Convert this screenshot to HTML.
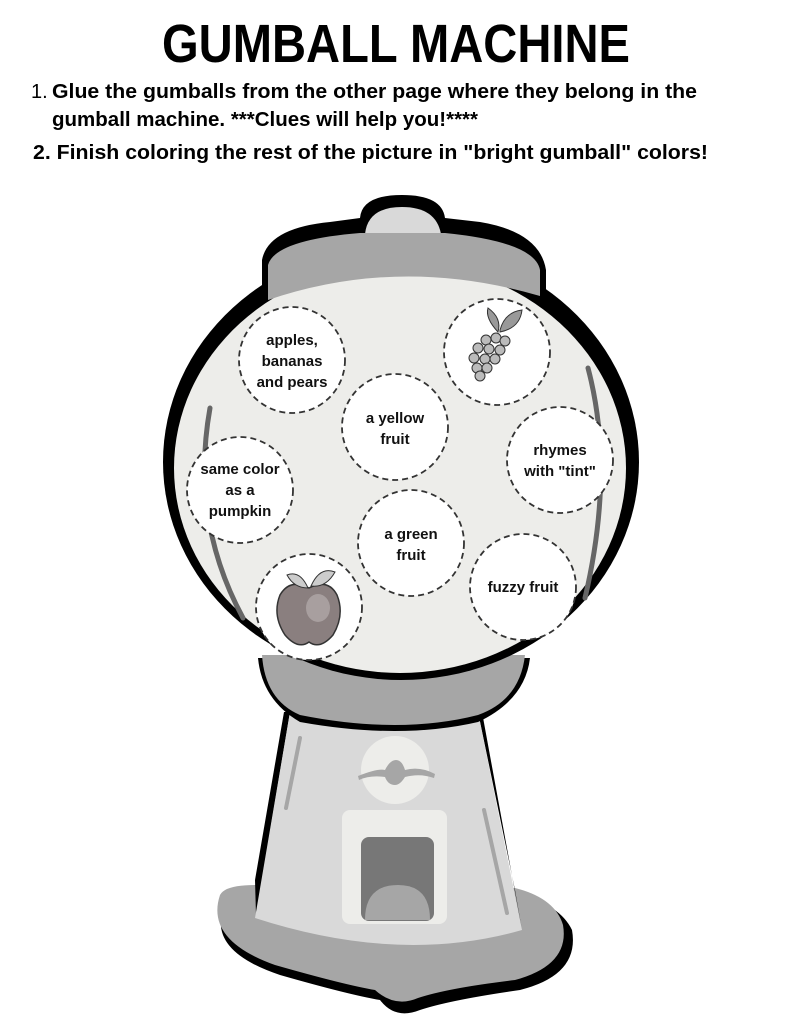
<!DOCTYPE html>
<html><head><style>
body{margin:0;background:#fff;width:791px;height:1023px;overflow:hidden;font-family:"Liberation Sans",sans-serif;}
</style></head><body>
<svg width="791" height="1023" viewBox="0 0 791 1023" xmlns="http://www.w3.org/2000/svg" font-family="Liberation Sans, sans-serif">
<text x="396" y="62" text-anchor="middle" font-size="54" font-weight="bold" textLength="468" lengthAdjust="spacingAndGlyphs" fill="#000">GUMBALL MACHINE</text>
<text x="31" y="98" font-size="20" fill="#000">1.</text>
<text x="52" y="98" font-size="20" font-weight="bold" fill="#000" textLength="645" lengthAdjust="spacingAndGlyphs">Glue the gumballs from the other page where they belong in the</text>
<text x="52" y="126" font-size="20" font-weight="bold" fill="#000" textLength="426" lengthAdjust="spacingAndGlyphs">gumball machine. ***Clues will help you!****</text>
<text x="33" y="159" font-size="20" font-weight="bold" fill="#000" textLength="675" lengthAdjust="spacingAndGlyphs">2. Finish coloring the rest of the picture in "bright gumball" colors!</text>

<!-- base shadow -->
<path d="M225 905 Q205 950 280 975 Q350 995 380 1000 Q395 1020 420 1010 Q450 1000 520 990 Q580 975 572 930 Q560 905 520 895 L260 895 Z" fill="#000"/>
<path d="M220 895 Q205 940 275 965 Q345 985 375 990 Q395 1008 418 998 Q448 988 515 980 Q570 965 563 925 Q555 898 515 888 L255 885 Q225 885 220 895 Z" fill="#a6a6a6"/>
<!-- body -->
<path d="M284 712 L255 880 L256 915 L290 712 Z" fill="#000"/>
<path d="M478 712 L515 890 L522 930 L482 712 Z" fill="#000"/>
<path d="M290 712 L255 918 Q400 965 522 930 L478 712 Z" fill="#d9d9d9"/>
<line x1="300" y1="738" x2="286" y2="808" stroke="#a6a6a6" stroke-width="4" stroke-linecap="round"/>
<line x1="484" y1="810" x2="507" y2="913" stroke="#a6a6a6" stroke-width="4" stroke-linecap="round"/>
<!-- neck -->
<path d="M258 658 Q262 700 300 722 Q400 740 478 722 Q525 700 530 658 Z" fill="#000"/>
<path d="M262 655 Q265 700 300 715 Q400 735 478 715 Q520 700 525 655 Z" fill="#a6a6a6"/>
<!-- globe black + lid black -->
<ellipse cx="401" cy="462" rx="238" ry="218" fill="#000"/>
<path d="M262 300 L262 260 Q268 228 330 222 L360 218 Q362 195 402 195 Q442 195 445 218 L480 222 Q540 232 546 270 L546 300 Z" fill="#000"/>
<ellipse cx="400" cy="468" rx="226" ry="205" fill="#ededea"/>
<!-- lid -->
<path d="M365 234 Q368 207 402 207 Q436 207 441 234 Z" fill="#d9d9d9"/>
<path d="M268 300 L268 265 Q275 240 360 233 L445 233 Q535 242 540 270 L540 296 Q400 255 268 300 Z" fill="#a6a6a6"/>
<!-- highlights -->
<path d="M210 408 Q190 520 243 618" fill="none" stroke="#666" stroke-width="5" stroke-linecap="round"/>
<path d="M588 368 Q615 470 585 598" fill="none" stroke="#666" stroke-width="5" stroke-linecap="round"/>
<!-- knob -->
<circle cx="395" cy="770" r="34" fill="#ededea"/>
<path d="M358 776 Q378 768 385 770 Q390 760 396 760 Q402 760 405 770 Q420 766 435 774 L434 778 Q420 773 405 777 Q400 785 395 785 Q388 785 385 777 Q370 775 359 780 Z" fill="#a6a6a6"/>
<!-- door -->
<rect x="342" y="810" width="105" height="114" rx="8" fill="#ededea"/>
<rect x="361" y="837" width="73" height="84" rx="8" fill="#777"/>
<path d="M365 920 Q365 885 398 885 Q430 885 430 920 Z" fill="#a6a6a6"/>
<!-- circles -->
<g fill="#fff" stroke="#333" stroke-width="1.8" stroke-dasharray="6 4">
<circle cx="292" cy="360" r="53"/>
<circle cx="497" cy="352" r="53"/>
<circle cx="395" cy="427" r="53"/>
<circle cx="560" cy="460" r="53"/>
<circle cx="240" cy="490" r="53"/>
<circle cx="411" cy="543" r="53"/>
<circle cx="523" cy="587" r="53"/>
<circle cx="309" cy="607" r="53"/>
</g>
<g font-size="15" font-weight="bold" text-anchor="middle" fill="#111">
<text x="292" y="345">apples,</text><text x="292" y="366">bananas</text><text x="292" y="387">and pears</text>
<text x="395" y="423">a yellow</text><text x="395" y="444">fruit</text>
<text x="560" y="455">rhymes</text><text x="560" y="476">with "tint"</text>
<text x="240" y="474">same color</text><text x="240" y="495">as a</text><text x="240" y="516">pumpkin</text>
<text x="411" y="539">a green</text><text x="411" y="560">fruit</text>
<text x="523" y="592">fuzzy fruit</text>
</g>
<!-- grapes -->
<g fill="#bbb" stroke="#333" stroke-width="1">
<path d="M500 330 Q505 312 522 310 Q520 328 500 332 Z" fill="#999"/>
<path d="M498 332 Q485 318 488 308 Q502 318 498 332 Z" fill="#999"/>
<circle cx="496" cy="338" r="5"/><circle cx="486" cy="340" r="5"/><circle cx="505" cy="341" r="5"/>
<circle cx="478" cy="348" r="5"/><circle cx="489" cy="349" r="5"/><circle cx="500" cy="350" r="5"/>
<circle cx="474" cy="358" r="5"/><circle cx="485" cy="359" r="5"/><circle cx="495" cy="359" r="5"/>
<circle cx="477" cy="368" r="5"/><circle cx="487" cy="368" r="5"/><circle cx="480" cy="376" r="5"/>
</g>
<!-- apple -->
<path d="M309 588 Q290 578 280 595 Q272 615 285 635 Q298 650 309 642 Q320 650 333 635 Q345 615 337 595 Q328 578 309 588 Z" fill="#8a7f7f" stroke="#333" stroke-width="1.5"/>
<ellipse cx="318" cy="608" rx="12" ry="14" fill="#a89f9f"/>
<path d="M308 588 Q300 570 287 575 Q294 588 308 588 Z" fill="#ccc" stroke="#333"/>
<path d="M311 586 Q320 566 335 572 Q326 588 311 586 Z" fill="#ccc" stroke="#333"/>
</svg>
</body></html>
